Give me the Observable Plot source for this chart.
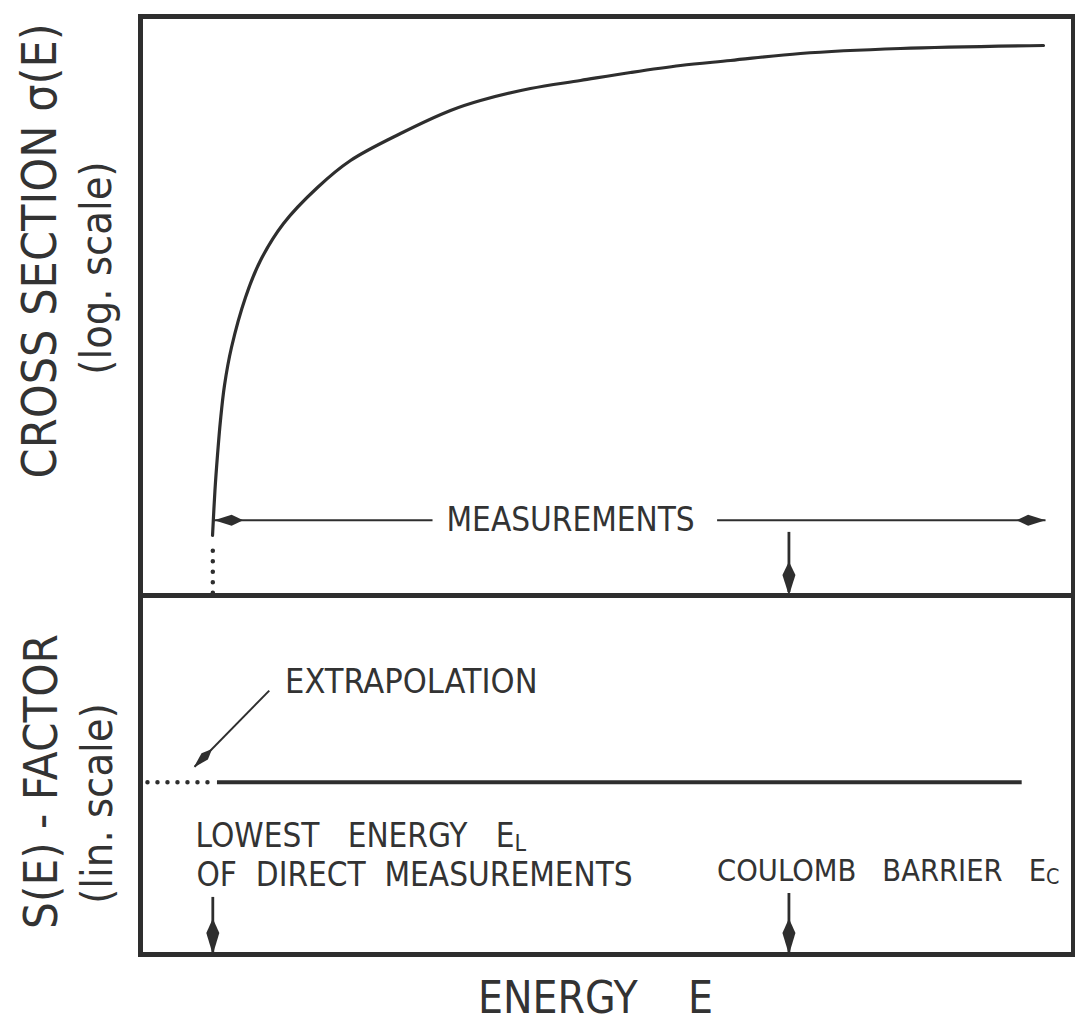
<!DOCTYPE html>
<html>
<head>
<meta charset="utf-8">
<script src="https://cdn.jsdelivr.net/npm/d3@7"></script>
<script src="https://cdn.jsdelivr.net/npm/@observablehq/plot@0.6"></script>
<style>
  html, body { margin: 0; padding: 0; background: #ffffff; }
  #chart { width: 1075px; height: 1023px; overflow: hidden; }
  #chart svg { display: block; }
</style>
</head>
<body>
<div id="chart"></div>
<script>
// ---------------- DATA (schematic, arbitrary units) ----------------
// Energy axis (arbitrary units, 0..100)
const energy   = [7.72, 7.98, 8.25, 8.57, 9.00, 9.75, 11.25, 12.86, 15.33, 18.97, 22.51, 27.87, 33.23, 36.44, 41.80, 47.16, 52.52, 57.88, 63.24, 70.74, 81.46, 96.78];
// log cross section (arbitrary units, 0..100)
const logSigma = [10.36, 18.13, 24.18, 30.22, 36.27, 42.83, 51.47, 57.86, 64.25, 70.47, 75.13, 79.79, 83.77, 85.49, 87.56, 88.95, 90.33, 91.54, 92.40, 93.61, 94.47, 94.99];

const E_L = 7.75;          // lowest energy of direct measurements
const E_C = 69.5;          // Coulomb barrier
const E_END = 97.0;        // end of measurements arrow
const S_VALUE = 48;        // S-factor (lin. scale)
const S_END = 94.5;        // end of measured S(E)
const S_EXTRAP_START = 0.8;
const S_EXTRAP_END = 7.3;
const S_MEAS_START = 8.25;

// text labels
const yLabelTop = "CROSS SECTION \u03c3(E)";
const yLabelTopSub = "(log. scale)";
const yLabelBottom = "S(E) - FACTOR";
const yLabelBottomSub = "(lin. scale)";
const xLabel = "ENERGY\u00a0\u00a0\u00a0\u00a0E";
const measLabel = "MEASUREMENTS";
const extrapLabel = "EXTRAPOLATION";
const lowestLine1 = "LOWEST\u00a0\u00a0\u00a0ENERGY\u00a0\u00a0\u00a0E";
const lowestLine2 = "OF\u00a0\u00a0DIRECT\u00a0\u00a0MEASUREMENTS";
const coulombLabel = "COULOMB\u00a0\u00a0\u00a0BARRIER\u00a0\u00a0\u00a0E";
const subL = "L", subC = "C";

// ---------------- STYLE ----------------
const INK = "#2e2e2e";
const TEXT = "#333333";
const FONT = '"DejaVu Sans Condensed", "Liberation Sans Narrow", sans-serif';

// Narrow kite-shaped arrowhead; tip at origin, pointing angleDeg clockwise from "up"
function head(angleDeg, len, half) {
  const a = angleDeg * Math.PI / 180;
  const ux = Math.sin(a), uy = -Math.cos(a);
  const px = -uy, py = ux;
  return {
    draw(ctx) {
      ctx.moveTo(0, 0);
      ctx.lineTo(-ux * len * 0.6 + px * half, -uy * len * 0.6 + py * half);
      ctx.lineTo(-ux * len, -uy * len);
      ctx.lineTo(-ux * len * 0.6 - px * half, -uy * len * 0.6 - py * half);
      ctx.closePath();
    }
  };
}

const curveData = energy.map((E, i) => ({E, logSigma: logSigma[i]}));

const common = {
  width: 1075,
  marginLeft: 140,
  marginRight: 2,
  x: {domain: [0, 100], axis: null},
  y: {domain: [0, 100], axis: null},
  style: {background: "transparent", overflow: "visible", fontFamily: FONT}
};

// ---------------- TOP PANEL: cross section ----------------
const MEAS_Y = 13.0;
const topPlot = Plot.plot({
  ...common,
  height: 595,
  marginTop: 16,
  marginBottom: 0,
  marks: [
    Plot.line(curveData, {x: "E", y: "logSigma", curve: "catmull-rom", stroke: INK, strokeWidth: 3.2}),
    // dotted continuation of the curve below the measurements
    Plot.ruleX([E_L], {y1: 0.4, y2: 8.2, stroke: INK, strokeWidth: 4.5, strokeLinecap: "round", strokeDasharray: "0 10.5"}),
    // measurements arrow
    Plot.link([{x1: E_L + 0.15, x2: 31.3}, {x1: 61.8, x2: E_END}], {x1: "x1", x2: "x2", y1: MEAS_Y, y2: MEAS_Y, stroke: INK, strokeWidth: 2.2}),
    Plot.dot([{x: E_L + 0.15}], {x: "x", y: MEAS_Y, symbol: head(270, 29, 5.5), fill: INK, stroke: "none"}),
    Plot.dot([{x: E_END}], {x: "x", y: MEAS_Y, symbol: head(90, 29, 5.5), fill: INK, stroke: "none"}),
    Plot.text([measLabel], {x: 46.1, y: MEAS_Y, fontSize: 33, fill: TEXT, textAnchor: "middle", lineAnchor: "middle"}),
    // Coulomb barrier marker
    Plot.ruleX([E_C], {y1: 10.9, y2: 0.5, stroke: INK, strokeWidth: 2.8}),
    Plot.dot([E_C], {x: d => d, y: 0, symbol: head(180, 34, 6.5), fill: INK, stroke: "none"}),
    // axis labels
    Plot.text([yLabelTop], {frameAnchor: "left", rotate: -90, textAnchor: "middle", dx: -100, dy: -55, fontSize: 48, fill: TEXT}),
    Plot.text([yLabelTopSub], {frameAnchor: "left", rotate: -90, textAnchor: "middle", dx: -43, dy: -38, fontSize: 43, fill: TEXT}),
    Plot.frame({stroke: INK, strokeWidth: 5})
  ]
});

// ---------------- BOTTOM PANEL: S-factor ----------------
const bottomPlot = Plot.plot({
  ...common,
  height: 428,
  marginTop: 0,
  marginBottom: 69,
  marks: [
    Plot.ruleY([S_VALUE], {x1: S_EXTRAP_START, x2: S_EXTRAP_END, stroke: INK, strokeWidth: 4.5, strokeLinecap: "round", strokeDasharray: "0 10"}),
    Plot.ruleY([S_VALUE], {x1: S_MEAS_START, x2: S_END, stroke: INK, strokeWidth: 4}),
    // extrapolation pointer
    Plot.link([{x1: 13.8, y1: 73.5, x2: 5.8, y2: 52.3}], {x1: "x1", y1: "y1", x2: "x2", y2: "y2", stroke: INK, strokeWidth: 2}),
    Plot.dot([{x: 5.7, y: 52.1}], {x: "x", y: "y", symbol: head(225, 26, 4.5), fill: INK, stroke: "none"}),
    Plot.text([extrapLabel], {x: 15.5, y: 76.0, fontSize: 34, fill: TEXT, textAnchor: "start", lineAnchor: "middle"}),
    // E_L marker
    Plot.text([lowestLine1], {x: 5.9, y: 33.0, fontSize: 33, fill: TEXT, textAnchor: "start", lineAnchor: "middle"}),
    Plot.text([lowestLine2], {x: 6.0, y: 22.0, fontSize: 33, fill: TEXT, textAnchor: "start", lineAnchor: "middle"}),
    Plot.ruleX([E_L], {y1: 15.9, y2: 0.5, stroke: INK, strokeWidth: 2.8}),
    Plot.dot([E_L], {x: d => d, y: 0, symbol: head(180, 36, 6.5), fill: INK, stroke: "none"}),
    // E_C marker
    Plot.text([coulombLabel], {x: 61.8, y: 23.3, fontSize: 30.5, fill: TEXT, textAnchor: "start", lineAnchor: "middle"}),
    Plot.ruleX([E_C], {y1: 17.0, y2: 0.5, stroke: INK, strokeWidth: 2.8}),
    Plot.dot([E_C], {x: d => d, y: 0, symbol: head(180, 36, 6.5), fill: INK, stroke: "none"}),
    // axis labels
    Plot.text([yLabelBottom], {frameAnchor: "left", rotate: -90, textAnchor: "middle", dx: -99, dy: 6.5, fontSize: 47, fill: TEXT}),
    Plot.text([yLabelBottomSub], {frameAnchor: "left", rotate: -90, textAnchor: "middle", dx: -42, dy: 28.5, fontSize: 43, fill: TEXT}),
    Plot.text([xLabel], {frameAnchor: "bottom", dy: 44, dx: -11.5, fontSize: 44, fill: TEXT, lineAnchor: "middle"}),
    Plot.frame({stroke: INK, strokeWidth: 5})
  ]
});

// subscripts E_L and E_C
d3.select(bottomPlot).selectAll("text").each(function () {
  const t = this.textContent;
  if (t === lowestLine1 || t === coulombLabel) {
    d3.select(this).append("tspan")
      .attr("dy", "0.18em")
      .attr("font-size", "0.7em")
      .text(t === lowestLine1 ? subL : subC);
  }
});

const chart = document.getElementById("chart");
chart.appendChild(topPlot);
chart.appendChild(bottomPlot);
</script>
</body>
</html>
